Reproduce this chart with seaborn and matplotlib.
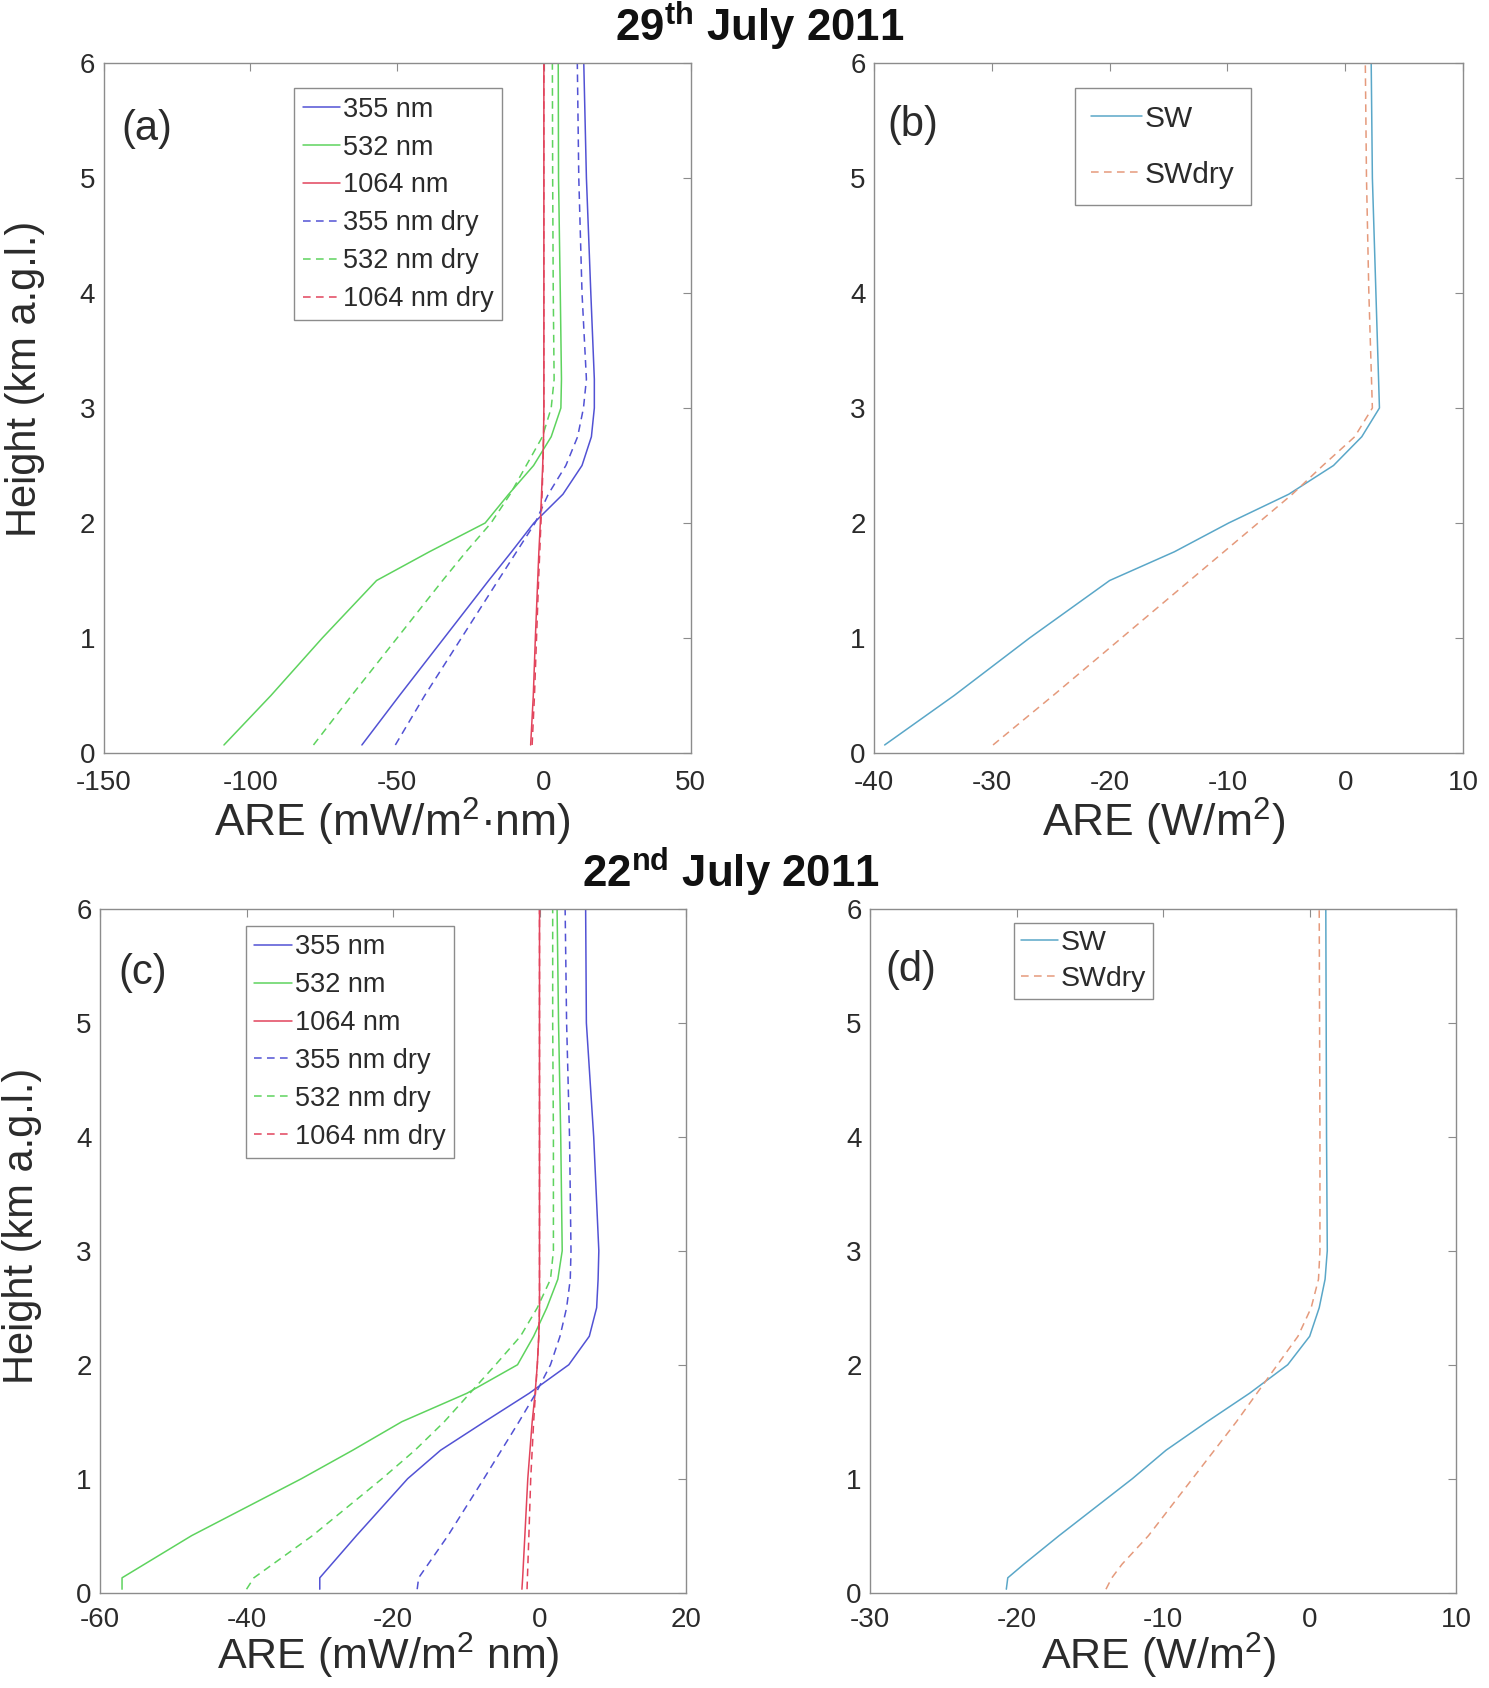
import matplotlib
matplotlib.use("Agg")
import matplotlib.pyplot as plt
import seaborn as sns

# ---- data (height in km a.g.l.) ----
# 29th July 2011, panel (a): spectral ARE (mW/m2 nm)
h_a = [0.07, 0.5, 1.0, 1.5, 1.75, 2.0, 2.25, 2.5, 2.75, 3.0, 3.25, 4.0, 5.0, 6.0]
a_355 = [-62, -49.2, -34, -18.8, -11, -3.4, 6.5, 13, 16.2, 17.2, 17.2, 16, 14.5, 13.6]
a_532 = [-109, -93, -75.5, -57, -39, -20, -12, -3.5, 2.5, 5.8, 6.0, 5.6, 5.0, 4.9]
a_1064 = [-4.5, -3.6, -2.9, -2.1, -1.7, -1.2, -0.8, -0.4, -0.1, 0, 0, 0, 0, 0]
a_355_dry = [-50.6, -40.6, -28.1, -15.6, -9.3, -3.0, 1.5, 7.5, 11.5, 13.5, 14.5, 13, 11.9, 11.4]
a_532_dry = [-78.5, -65.5, -50, -34.5, -26.5, -18, -11.5, -6, -0.5, 2.5, 3.5, 3.2, 3.0, 2.9]
a_1064_dry = [-4.0, -3.2, -2.5, -1.8, -1.4, -1.0, -0.6, -0.3, -0.1, 0, 0, 0, 0, 0]

# panel (b): shortwave ARE (W/m2)
h_b = [0.07, 0.5, 1.0, 1.5, 1.75, 2.0, 2.25, 2.5, 2.75, 3.0, 4.0, 5.0, 6.0]
b_sw = [-39.1, -33.2, -26.8, -20, -14.5, -9.9, -4.8, -1.0, 1.4, 2.9, 2.6, 2.3, 2.2]
b_swdry = [-29.9, -24.8, -19.0, -13.2, -10.3, -7.4, -4.5, -1.9, 0.8, 2.3, 2.0, 1.8, 1.7]

# 22nd July 2011, panel (c)
h_c = [0.03, 0.13, 0.5, 1.0, 1.25, 1.5, 1.75, 2.0, 2.25, 2.5, 2.75, 3.0, 4.0, 5.0, 6.0]
c_355 = [-30, -30, -25, -18, -13.5, -7.5, -1.4, 4, 6.8, 7.8, 8.0, 8.1, 7.4, 6.4, 6.3]
c_532 = [-57, -57, -47.5, -32.5, -25.5, -18.8, -9.9, -3, -0.8, 1, 2.5, 3.1, 2.9, 2.6, 2.4]
c_1064 = [-2.4, -2.3, -2.0, -1.6, -1.3, -1.0, -0.6, -0.3, -0.1, 0, 0, 0, 0, 0, 0]
c_355_dry = [-16.7, -16.5, -12.5, -7.6, -5.2, -2.8, -0.5, 1.5, 2.8, 3.7, 4.2, 4.3, 4.1, 3.7, 3.5]
c_532_dry = [-40, -39, -31, -21.5, -17, -13, -9.5, -6, -2.6, -0.3, 1.5, 1.9, 1.9, 1.8, 1.8]
c_1064_dry = [-1.7, -1.65, -1.45, -1.2, -1.0, -0.8, -0.55, -0.3, -0.1, 0, 0, 0, 0, 0, 0]

# panel (d)
h_d = [0.03, 0.13, 0.25, 0.5, 1.0, 1.25, 1.5, 1.75, 2.0, 2.25, 2.5, 2.75, 3.0, 4.0, 6.0]
d_sw = [-20.7, -20.6, -19.5, -17.1, -12.1, -9.8, -7.0, -4.1, -1.5, 0, 0.65, 1.05, 1.2, 1.15, 1.1]
d_swdry = [-13.9, -13.5, -12.8, -11.0, -8.0, -6.5, -5.0, -3.6, -2.2, -0.8, 0.1, 0.6, 0.7, 0.7, 0.65]

spectral_labels = ["355 nm", "532 nm", "1064 nm", "355 nm dry", "532 nm dry", "1064 nm dry"]
sw_labels = ["SW", "SWdry"]

# ---- style ----
sns.set_theme(style="white")
plt.rcParams['font.family'] = ['Liberation Sans', 'DejaVu Sans']
plt.rcParams['mathtext.fontset'] = 'custom'
plt.rcParams['mathtext.rm'] = 'Liberation Sans'
plt.rcParams['mathtext.it'] = 'Liberation Sans:italic'
plt.rcParams['mathtext.bf'] = 'Liberation Sans:bold'
plt.rcParams['axes.unicode_minus'] = False

BLUE, GREEN, RED = "#5252d4", "#5ed35e", "#e2445c"
SW_COL, SWDRY_COL = "#5aa7c8", "#e59a7c"
DASH = (0, (5, 3.5))
GRAY = "#8c8c8c"
TXT = "#2b2b2b"

fig = plt.figure(figsize=(14.89, 16.88), dpi=100)
ax_a = fig.add_axes([0.0696, 0.5539, 0.3942, 0.4088])
ax_b = fig.add_axes([0.5870, 0.5539, 0.3956, 0.4088])
ax_c = fig.add_axes([0.0672, 0.0565, 0.3935, 0.4050])
ax_d = fig.add_axes([0.5843, 0.0565, 0.3937, 0.4050])


def draw(ax, height, series):
    for vals, label, color, dashed in series:
        sns.lineplot(x=vals, y=height, sort=False, estimator=None, ax=ax,
                     color=color, linewidth=1.1, label=label,
                     linestyle=DASH if dashed else '-')


def style(ax, xlim, xstep, xlabel, tag, tag_pos, bottom_row=False):
    ax.set_xlim(*xlim)
    ax.set_ylim(0, 6)
    ax.set_xticks(range(xlim[0], xlim[1] + 1, xstep))
    ax.set_yticks(range(0, 7))
    for sp in ax.spines.values():
        sp.set_color(GRAY)
        sp.set_linewidth(1.0)
    ax.tick_params(axis='both', direction='in', top=True, right=True, length=6,
                   width=0.8, color=GRAY, labelsize=20, labelcolor=TXT)
    ax.tick_params(axis='x', pad=10 if bottom_row else 12)
    ax.tick_params(axis='y', pad=6)
    if bottom_row:
        # sits right on the bottom edge of the figure, as in the reference
        ax.set_xlabel(xlabel, fontsize=31, color=TXT, va='bottom')
        ax.xaxis.set_label_coords(0.492, -0.1275)
    else:
        ax.set_xlabel(xlabel, fontsize=32, color=TXT, va='center')
        ax.xaxis.set_label_coords(0.492, -0.10)
    ax.set_ylabel("")
    ax.text(tag_pos[0], tag_pos[1], tag, transform=ax.transAxes, fontsize=30,
            color=TXT, ha='left', va='center')


draw(ax_a, h_a, [(a_355, spectral_labels[0], BLUE, False),
                 (a_532, spectral_labels[1], GREEN, False),
                 (a_1064, spectral_labels[2], RED, False),
                 (a_355_dry, spectral_labels[3], BLUE, True),
                 (a_532_dry, spectral_labels[4], GREEN, True),
                 (a_1064_dry, spectral_labels[5], RED, True)])
draw(ax_b, h_b, [(b_sw, sw_labels[0], SW_COL, False),
                 (b_swdry, sw_labels[1], SWDRY_COL, True)])
draw(ax_c, h_c, [(c_355, spectral_labels[0], BLUE, False),
                 (c_532, spectral_labels[1], GREEN, False),
                 (c_1064, spectral_labels[2], RED, False),
                 (c_355_dry, spectral_labels[3], BLUE, True),
                 (c_532_dry, spectral_labels[4], GREEN, True),
                 (c_1064_dry, spectral_labels[5], RED, True)])
draw(ax_d, h_d, [(d_sw, sw_labels[0], SW_COL, False),
                 (d_swdry, sw_labels[1], SWDRY_COL, True)])

style(ax_a, (-150, 50), 50, "ARE (mW/m$^2$·nm)", "(a)", (0.031, 0.904))
style(ax_b, (-40, 10), 10, "ARE (W/m$^2$)", "(b)", (0.022, 0.910))
style(ax_c, (-60, 20), 20, "ARE (mW/m$^2$ nm)", "(c)", (0.032, 0.907), bottom_row=True)
style(ax_d, (-30, 10), 10, "ARE (W/m$^2$)", "(d)", (0.026, 0.911), bottom_row=True)

for ax, yl in [(ax_a, 0.542), (ax_c, 0.536)]:
    ax.set_ylabel("Height (km a.g.l.)", fontsize=30, color=TXT, va='center')
    ax.yaxis.set_label_coords(-0.134, yl)

leg_kw = dict(loc='upper left', borderaxespad=0, fancybox=False, framealpha=1,
              edgecolor=GRAY, handletextpad=0.1)
# anchor, font size, row spacing, border padding, handle length
leg_cfg = [(ax_a, (0.325, 0.963), 19.5, 0.44, 0.3, 1.4),
           (ax_c, (0.249, 0.975), 19.5, 0.44, 0.3, 1.4),
           (ax_b, (0.341, 0.963), 21.5, 0.93, 0.55, 1.7),
           (ax_d, (0.2455, 0.980), 20.5, 0.36, 0.25, 1.3)]
for ax, anchor, fs, spacing, bpad, hlen in leg_cfg:
    leg = ax.legend(bbox_to_anchor=anchor, fontsize=fs, labelspacing=spacing,
                    borderpad=bpad, handlelength=hlen, **leg_kw)
    leg.get_frame().set_linewidth(1.0)
    for t in leg.get_texts():
        t.set_color(TXT)

fig.text(0.510, 0.9846, r"29$^{\mathbf{th}}$ July 2011", ha='center', va='center',
         fontsize=31.5, fontweight='bold', color='#111111')
fig.text(0.491, 0.4834, r"22$^{\mathbf{nd}}$ July 2011", ha='center', va='center',
         fontsize=31.5, fontweight='bold', color='#111111')

fig.savefig("out.png", dpi=100)
